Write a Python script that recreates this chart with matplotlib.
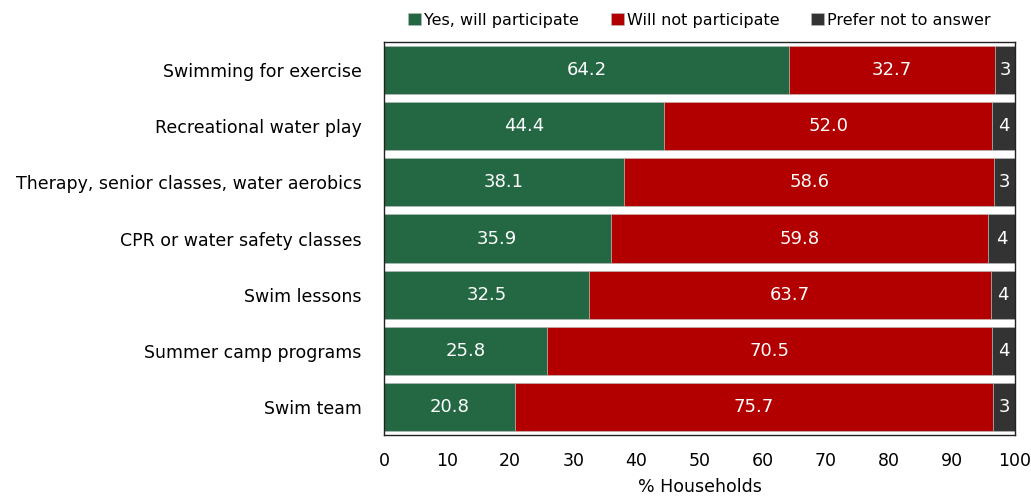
import numpy as np
import matplotlib
matplotlib.use("Agg")
import matplotlib.pyplot as plt

# survey results, % of households
activities = ["Swimming for exercise", "Recreational water play",
              "Therapy, senior classes, water aerobics", "CPR or water safety classes",
              "Swim lessons", "Summer camp programs", "Swim team"]
yes_vals = [64.2, 44.4, 38.1, 35.9, 32.5, 25.8, 20.8]
no_vals = [32.7, 52.0, 58.6, 59.8, 63.7, 70.5, 75.7]
pna_vals = [3.1, 3.6, 3.3, 4.3, 3.8, 3.7, 3.5]
pna_labels = ["3", "4", "3", "4", "4", "4", "3"]

series_names = ["Yes, will participate", "Will not participate", "Prefer not to answer"]
colors = ["#236842", "#b20000", "#333333"]

plt.rcParams['font.family'] = ['DejaVu Sans']
fs = 12.5

fig = plt.figure(figsize=(10.31, 5.0), dpi=100)
ax = fig.add_axes([0.3724, 0.13, 0.6121, 0.786])

y = np.arange(len(activities))
yes = np.array(yes_vals)
no = np.array(no_vals)
pna = np.array(pna_vals)

h = 0.86
ax.barh(y, yes, height=h, color=colors[0], edgecolor="#bbbbbb", linewidth=0.4, label=series_names[0])
ax.barh(y, no, left=yes, height=h, color=colors[1], edgecolor="#bbbbbb", linewidth=0.4, label=series_names[1])
ax.barh(y, pna, left=yes + no, height=h, color=colors[2], edgecolor="#bbbbbb", linewidth=0.4, label=series_names[2])

for i in range(len(activities)):
    ax.text(yes[i] / 2, y[i], "%.1f" % yes[i], ha="center", va="center", color="white", fontsize=fs + 0.5)
    ax.text(yes[i] + no[i] / 2, y[i], "%.1f" % no[i], ha="center", va="center", color="white", fontsize=fs + 0.5)
    ax.text(yes[i] + no[i] + pna[i] / 2, y[i], pna_labels[i], ha="center", va="center", color="white", fontsize=fs + 0.5)

ax.set_xlim(0, 100)
ax.set_ylim(len(activities) - 0.5, -0.5)
ax.set_yticks(y)
ax.set_yticklabels(activities, fontsize=fs)
ax.set_xticks(np.arange(0, 101, 10))
ax.tick_params(axis="both", length=0, labelsize=fs)
ax.tick_params(axis="x", pad=12)
ax.tick_params(axis="y", pad=16)
ax.set_xlabel("% Households", fontsize=fs, labelpad=6)
for sp in ax.spines.values():
    sp.set_color("#222222")
    sp.set_linewidth(1.0)

ax.legend(loc="lower center", bbox_to_anchor=(0.5, 1.0), ncol=3, frameon=False,
          fontsize=11.5, handlelength=0.8, handleheight=0.8, handletextpad=0.2,
          columnspacing=2.0, borderaxespad=0.5)

fig.savefig("out.png", dpi=100)
